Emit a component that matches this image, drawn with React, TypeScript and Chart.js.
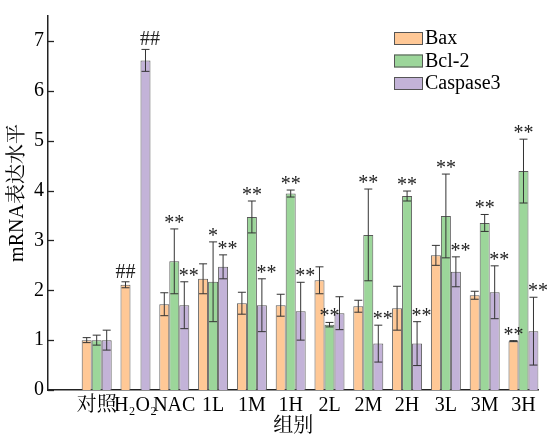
import React, { useEffect, useRef } from 'react';
import { Chart, registerables } from 'chart.js';

Chart.register(...registerables);

const categories = ['对照', 'H₂O₂', 'NAC', '1L', '1M', '1H', '2L', '2M', '2H', '3L', '3M', '3H'];
const seriesNames = ['Bax', 'Bcl-2', 'Caspase3'];
const baxValues = [1.0, 2.11, 1.72, 2.23, 1.74, 1.7, 2.2, 1.68, 1.64, 2.7, 1.9, 0.98];
const baxErrors = [0.05, 0.06, 0.23, 0.3, 0.22, 0.22, 0.27, 0.12, 0.44, 0.2, 0.08, 0.01];
const bcl2Values = [1.0, null, 2.58, 2.17, 3.47, 3.94, 1.31, 3.11, 3.89, 3.49, 3.35, 4.39];
const bcl2Errors = [0.1, null, 0.65, 0.8, 0.32, 0.07, 0.045, 0.92, 0.1, 0.84, 0.17, 0.64];
const caspValues = [1.0, 6.61, 1.7, 2.47, 1.7, 1.58, 1.54, 0.93, 0.93, 2.37, 1.96, 1.18];
const caspErrors = [0.2, 0.22, 0.47, 0.24, 0.53, 0.58, 0.33, 0.37, 0.44, 0.3, 0.53, 0.68];
const baxMarks = ['', '##', '', '', '', '', '', '', '', '', '', '**'];
const bcl2Marks = ['', '', '**', '*', '**', '**', '**', '**', '**', '**', '**', '**'];
const caspMarks = ['', '##', '**', '**', '**', '**', '', '**', '**', '**', '**', '**'];
const yTickValues = [0, 1, 2, 3, 4, 5, 6, 7];
const yTitle = '    mRNA表达水平';
const xTitle = '组别';

const FONT = '"Liberation Serif", "Times New Roman", "Noto Serif CJK SC", "Noto Sans CJK SC", serif';

const errorBarPlugin = {
  id: 'errorBars',
  afterDatasetsDraw(chart: any) {
    const { ctx } = chart;
    const yScale = chart.scales.y;
    chart.data.datasets.forEach((ds: any, di: number) => {
      const meta = chart.getDatasetMeta(di);
      meta.data.forEach((bar: any, i: number) => {
        const raw = ds.data[i];
        const v = raw ? raw.y : null;
        if (v === null || v === undefined) return;
        const e = ds.errors[i];
        const x = bar.x;
        let topPx = bar.y;
        if (e !== null && e !== undefined) {
          topPx = yScale.getPixelForValue(v + e);
          const botPx = yScale.getPixelForValue(v - e);
          ctx.save();
          ctx.strokeStyle = '#333';
          ctx.lineWidth = 1;
          ctx.beginPath();
          ctx.moveTo(x, topPx);
          ctx.lineTo(x, botPx);
          ctx.moveTo(x - 4, topPx);
          ctx.lineTo(x + 4, topPx);
          ctx.moveTo(x - 4, botPx);
          ctx.lineTo(x + 4, botPx);
          ctx.stroke();
          ctx.restore();
        }
        const mark = ds.marks[i];
        if (mark) {
          ctx.save();
          ctx.fillStyle = '#222';
          ctx.font = '20px ' + FONT;
          ctx.textAlign = 'center';
          ctx.textBaseline = 'alphabetic';
          const dy = mark.indexOf('#') >= 0 ? 4 : 0;
          ctx.fillText(mark, x + ds.markShift, topPx - dy);
          ctx.restore();
        }
      });
    });
  },
};

const legendAndTicksPlugin = {
  id: 'customLegend',
  afterDraw(chart: any) {
    const { ctx, chartArea } = chart;
    const yScale = chart.scales.y;
    ctx.save();
    ctx.strokeStyle = '#222';
    ctx.lineWidth = 1.3;
    yScale.ticks.forEach((t: any) => {
      const py = Math.round(yScale.getPixelForValue(t.value)) + 0.5;
      ctx.beginPath();
      ctx.moveTo(chartArea.left, py);
      ctx.lineTo(chartArea.left + 6, py);
      ctx.stroke();
    });
    ctx.restore();
    const bx = chartArea.right - 144.5;
    const by0 = chartArea.top + 16;
    chart.data.datasets.forEach((ds: any, k: number) => {
      const y = by0 + k * 22.5;
      ctx.save();
      ctx.fillStyle = ds.backgroundColor;
      ctx.fillRect(bx, y, 29, 13);
      ctx.strokeStyle = '#555';
      ctx.lineWidth = 1;
      ctx.strokeRect(bx + 0.5, y + 0.5, 28, 12);
      ctx.fillStyle = '#000';
      ctx.font = '20px ' + FONT;
      ctx.textAlign = 'left';
      ctx.textBaseline = 'middle';
      ctx.fillText(ds.label, bx + 31, y + 7);
      ctx.restore();
    });
  },
};

export default function App() {
  const ref = useRef<HTMLCanvasElement | null>(null);
  useEffect(() => {
    if (!ref.current) return;
    const toPoints = (arr: (number | null)[]) => arr.map((v, i) => ({ x: i, y: v }));
    const chart = new Chart(ref.current, {
      type: 'bar',
      data: {
        datasets: [
          {
            label: seriesNames[0],
            data: toPoints(baxValues),
            backgroundColor: '#FFC896',
            borderColor: '#5a5a5a',
            borderWidth: 1,
            errors: baxErrors,
            marks: baxMarks,
            markShift: 0,
          } as any,
          {
            label: seriesNames[1],
            data: toPoints(bcl2Values),
            backgroundColor: '#9CD69A',
            borderColor: '#5a5a5a',
            borderWidth: 1,
            errors: bcl2Errors,
            marks: bcl2Marks,
            markShift: 0,
          } as any,
          {
            label: seriesNames[2],
            data: toPoints(caspValues),
            backgroundColor: '#C3B3D8',
            borderColor: '#5a5a5a',
            borderWidth: 1,
            errors: caspErrors,
            marks: caspMarks,
            markShift: 4.5,
          } as any,
        ],
      },
      options: {
        animation: false,
        responsive: false,
        maintainAspectRatio: false,
        events: [],
        layout: { padding: { top: 13, right: 8.5, left: 0, bottom: 0 } },
        datasets: { bar: { categoryPercentage: 0.773, barPercentage: 1.0 } },
        plugins: { legend: { display: false }, tooltip: { enabled: false } },
        scales: {
          x: {
            type: 'linear',
            offset: false,
            min: -1.255,
            max: 11.387,
            grid: { display: false, drawTicks: false },
            border: { display: true, color: '#222', width: 1.5 },
            afterBuildTicks: (scale: any) => {
              scale.ticks = categories.map((_, i) => ({ value: i }));
            },
            afterFit: (scale: any) => {
              scale.height = 45;
            },
            ticks: {
              autoSkip: false,
              maxRotation: 0,
              minRotation: 0,
              padding: 4,
              color: '#000',
              font: { family: FONT, size: 20 },
              callback: (value: any) => categories[Math.round(Number(value))] ?? '',
            },
            title: {
              display: true,
              text: xTitle,
              color: '#000',
              font: { family: FONT, size: 20 },
              padding: { top: 0, bottom: -4 },
            },
          },
          y: {
            type: 'linear',
            min: 0,
            max: 7.5,
            grid: { display: false, drawTicks: false },
            border: { display: true, color: '#222', width: 1.5 },
            afterBuildTicks: (scale: any) => {
              scale.ticks = yTickValues.map((v) => ({ value: v }));
            },
            afterFit: (scale: any) => {
              scale.width = 48;
            },
            ticks: {
              padding: 4,
              color: '#000',
              font: { family: FONT, size: 20 },
              callback: (value: any) => String(value),
            },
            title: {
              display: true,
              text: yTitle,
              color: '#000',
              font: { family: FONT, size: 20 },
              padding: { top: 6, bottom: 0 },
            },
          },
        },
      } as any,
      plugins: [errorBarPlugin, legendAndTicksPlugin],
    });
    return () => chart.destroy();
  }, []);
  return (
    <div style={{ position: 'fixed', left: 0, top: 0, width: 547, height: 435, background: '#fff' }}>
      <canvas ref={ref} width={547} height={435} style={{ width: 547, height: 435, display: 'block' }} />
    </div>
  );
}
